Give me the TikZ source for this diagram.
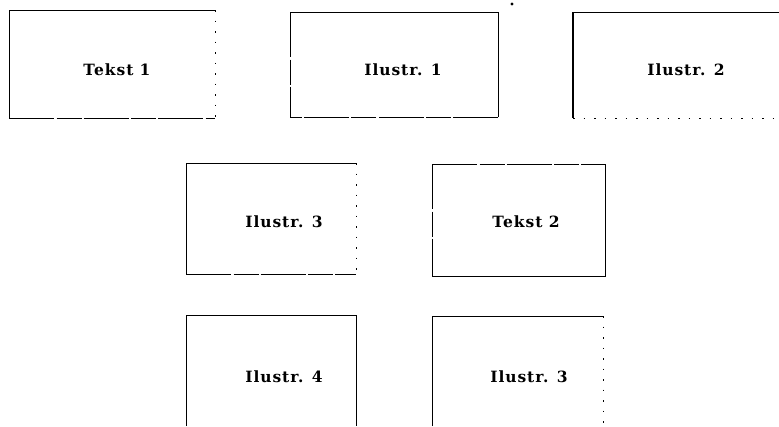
\documentclass[tikz,border=0pt]{standalone}
\usepackage{fontspec}
\setmainfont{DejaVu Serif}
\newfontfamily\lblfont[LetterSpace=6]{DejaVu Serif}
\begin{document}
\begin{tikzpicture}[x=1pt,y=-1pt,
  lbl/.style={font=\lblfont\bfseries\fontsize{15.5}{18}\selectfont, inner sep=0pt},
  edge/.style={line width=0.9pt, black},
  thick edge/.style={line width=1.8pt, black},
  gappy/.style={line width=0.9pt, black, dash pattern=on 45pt off 2.5pt on 25pt off 2pt},
  faint/.style={line width=0.7pt, black, dash pattern=on 1.5pt off 9pt}]
\useasboundingbox (0,0) rectangle (779,426);
% box 1
\coordinate (a-nw) at (9,10); \coordinate (a-ne) at (215,10);
\coordinate (a-sw) at (9,118); \coordinate (a-se) at (215,118);
\draw[edge] (a-sw) -- (a-nw) -- (a-ne);
\draw[gappy] (a-sw) -- (a-se);
\draw[faint] (a-ne) -- (a-se);
\node[lbl] (t1) at (117,70) {Tekst 1};
% box 2
\coordinate (b-nw) at (290,12); \coordinate (b-ne) at (498,12);
\coordinate (b-sw) at (290,117); \coordinate (b-se) at (498,117);
\draw[edge] (b-nw) -- (b-ne) -- (b-se);
\draw[gappy] (b-nw) -- (b-sw);
\draw[gappy] (b-se) -- (b-sw);
\node[lbl] (i1) at (403,70) {Ilustr. 1};
\fill (512,4) circle (1.6pt);
% box 3
\coordinate (c-nw) at (573,12); \coordinate (c-ne) at (779,12);
\coordinate (c-sw) at (573,118); \coordinate (c-se) at (779,118);
\draw[edge] (c-nw) -- (c-ne);
\draw[thick edge] (c-nw) -- (c-sw);
\draw[faint] (c-sw) -- (c-se);
\node[lbl] (i2) at (686,70) {Ilustr. 2};
% box 4
\coordinate (d-nw) at (186,163); \coordinate (d-ne) at (356,163);
\coordinate (d-sw) at (186,274); \coordinate (d-se) at (356,274);
\draw[edge] (d-ne) -- (d-nw) -- (d-sw);
\draw[gappy] (d-sw) -- (d-se);
\draw[faint] (d-ne) -- (d-se);
\node[lbl] (i3) at (284,222) {Ilustr. 3};
% box 5
\coordinate (e-nw) at (432,164); \coordinate (e-ne) at (605,164);
\coordinate (e-sw) at (432,276); \coordinate (e-se) at (605,276);
\draw[gappy] (e-nw) -- (e-ne);
\draw[gappy] (e-nw) -- (e-sw);
\draw[edge] (e-ne) -- (e-se) -- (e-sw);
\node[lbl] (t2) at (526,222) {Tekst 2};
% box 6
\coordinate (f-nw) at (186,315); \coordinate (f-ne) at (356,315);
\coordinate (f-sw) at (186,426); \coordinate (f-se) at (356,426);
\draw[edge] (f-sw) -- (f-nw) -- (f-ne) -- (f-se);
\node[lbl] (i4) at (284,377) {Ilustr. 4};
% box 7
\coordinate (g-nw) at (432,316); \coordinate (g-ne) at (603,316);
\coordinate (g-sw) at (432,426); \coordinate (g-se) at (603,426);
\draw[edge] (g-sw) -- (g-nw) -- (g-ne);
\draw[faint] (g-ne) -- (g-se);
\node[lbl] (i5) at (529,377) {Ilustr. 3};
\end{tikzpicture}
\end{document}
